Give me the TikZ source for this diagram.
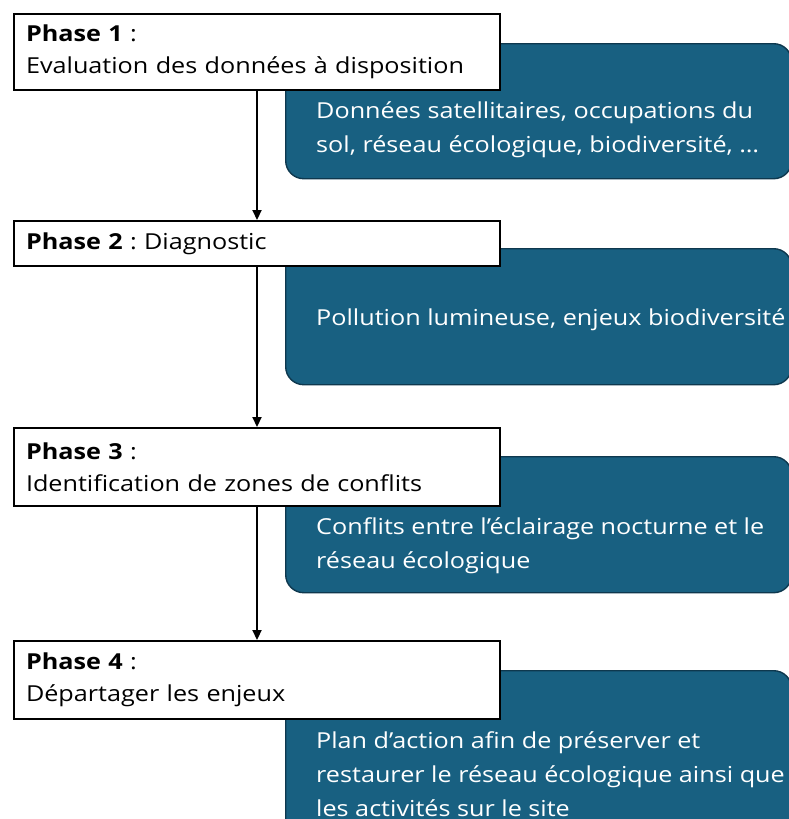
\documentclass[tikz,border=0pt]{standalone}
\usepackage{fontspec}
\setmainfont{Open Sans}[FakeStretch=1.145]
\frenchspacing
\usetikzlibrary{arrows.meta}
\definecolor{bluefill}{RGB}{24,96,129}
\definecolor{blueedge}{RGB}{14,56,78}
\begin{document}
\begin{tikzpicture}[x=1pt,y=-1pt,
  phasebox/.style={draw=black, line width=2pt, fill=white, anchor=north west,
    minimum width=486pt, inner xsep=12pt, inner ysep=0pt, text width=462pt,
    align=left, font=\fontsize{22}{32}\selectfont},
  infobox/.style={draw=blueedge, line width=1.4pt, fill=bluefill,
    rounded corners=18pt, anchor=north west, minimum width=506pt},
  infotext/.style={anchor=west, text=white, align=left, inner sep=0pt,
    font=\fontsize{22}{34}\selectfont},
  flow/.style={line width=2.2pt, -{Triangle[length=10pt,width=9pt]}}
]
\useasboundingbox (0,0) rectangle (789,819);
\clip (0,0) rectangle (789,819);
\fill[white] (0,0) rectangle (789,819);

% x position of the vertical flow line
\coordinate (spine) at (257,0);

% blue detail panels
\node[infobox, minimum height=135pt] (b1) at (285,43) {};
\node[infobox, minimum height=136pt] (b2) at (285,248) {};
\node[infobox, minimum height=136pt] (b3) at (285,456) {};
\node[infobox, minimum height=170pt] (b4) at (285,670) {};

\node[infotext] (t1) at (316,130) {Données satellitaires, occupations du\\sol, réseau écologique, biodiversité, …};
\node[infotext] (t2) at (316,320) {Pollution lumineuse, enjeux biodiversité};
\node[infotext] (t3) at (316,546) {Conflits entre l’éclairage nocturne et le\\réseau écologique};
\node[infotext] (t4) at (316,774) {Plan d’action afin de préserver et\\restaurer le réseau écologique ainsi que\\les activités sur le site};

% phase boxes
\node[phasebox, minimum height=76pt] (p1) at (13,13) {\textbf{Phase 1} :\\Evaluation des données à disposition};
\node[phasebox, minimum height=45pt] (p2) at (13,220) {\textbf{Phase 2} : Diagnostic};
\node[phasebox, minimum height=78pt] (p3) at (13,427) {\textbf{Phase 3} :\\Identification de zones de conflits};
\node[phasebox, minimum height=78pt] (p4) at (13,640) {\textbf{Phase 4} :\\Départager les enjeux};

% flow arrows
\draw[flow] (p1.south -| spine) -- (p2.north -| spine);
\draw[flow] (p2.south -| spine) -- (p3.north -| spine);
\draw[flow] (p3.south -| spine) -- (p4.north -| spine);
\end{tikzpicture}
\end{document}
